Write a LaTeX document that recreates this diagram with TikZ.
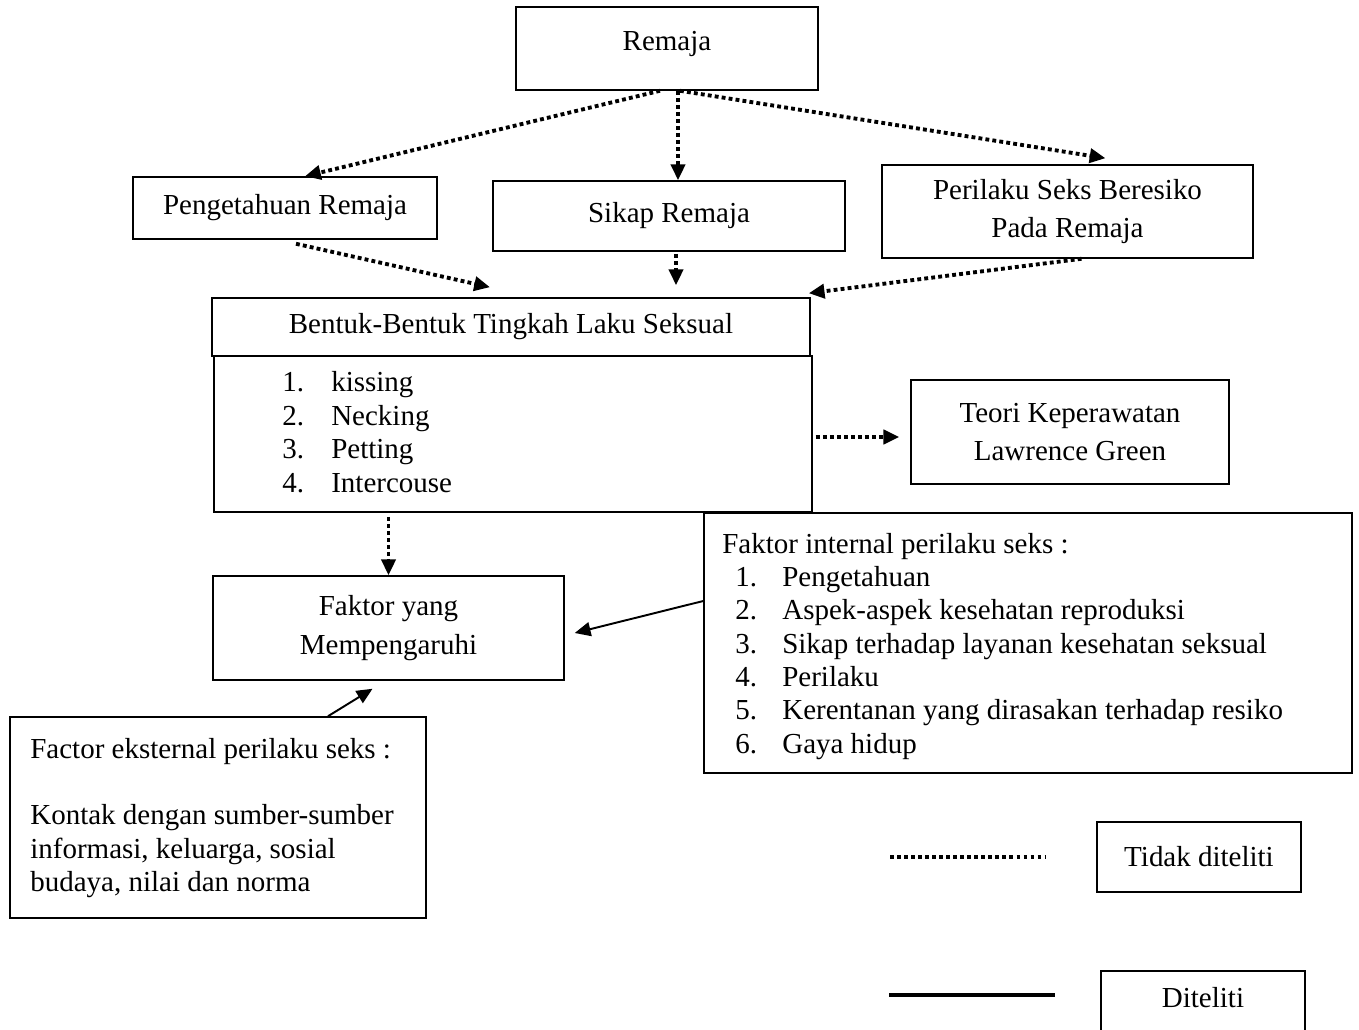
\documentclass[tikz,border=0pt]{standalone}
\usepackage{fontspec}
\setmainfont{Liberation Serif}
\usetikzlibrary{arrows.meta,calc}

\begin{document}
\begin{tikzpicture}[x=0.02cm,y=-0.02cm]
\tikzstyle{every node}+=[font=\fontsize{16.5}{19}\selectfont]
\tikzstyle{kotak}=[draw,line width=0.9pt,inner sep=0pt,align=center]
\tikzstyle{titik}=[line width=2.2pt,dash pattern=on 2.2pt off 1.8pt,-{Triangle[length=9pt,width=8pt]}]
\tikzstyle{garis}=[line width=1.1pt,-{Triangle[length=9pt,width=8pt]}]
\useasboundingbox (0,0) rectangle (1359,1030);
\node[kotak,minimum width=6.04cm,minimum height=1.66cm,text depth=0.3cm] (remaja) at (667,48.5) {Remaja};
\node[kotak,minimum width=6.08cm,minimum height=1.24cm] (pengetahuan) at (285,208) {Pengetahuan Remaja};
\node[kotak,minimum width=7.04cm,minimum height=1.4cm] (sikap) at (669,216) {Sikap Remaja};
\node[kotak,minimum width=7.42cm,minimum height=1.86cm] (perilaku) at (1067.5,211.5) {Perilaku Seks Beresiko\\[0.1cm]Pada Remaja};
\node[kotak,minimum width=11.96cm,minimum height=1.16cm] (bentuk) at (511,327) {Bentuk-Bentuk Tingkah Laku Seksual};
\node[kotak,minimum width=11.96cm,minimum height=3.12cm] (daftar) at (513,434) {};
\node[anchor=base west,inner sep=0pt] (teksdaftar) at (282,392) {\begin{tabular}[t]{@{}p{0.98cm}@{}l@{}}
1. & kissing\\
2. & Necking\\
3. & Petting\\
4. & Intercouse
\end{tabular}};
\node[kotak,minimum width=6.36cm,minimum height=2.08cm] (teori) at (1070,432) {Teori Keperawatan\\[0.1cm]Lawrence Green};
\node[kotak,minimum width=7.02cm,minimum height=2.08cm] (faktor) at (388.5,628) {Faktor yang\\[0.1cm]Mempengaruhi};
\node[kotak,minimum width=12.96cm,minimum height=5.2cm] (internal) at (1028,643) {};
\node[anchor=base west,inner sep=0pt] (teksinternal) at (722,553) {\begin{tabular}[t]{@{\hspace{0.26cm}}p{0.94cm}@{}l@{}}
\multicolumn{2}{@{}l@{}}{Faktor internal perilaku seks :}\\
1. & Pengetahuan\\
2. & Aspek-aspek kesehatan reproduksi\\
3. & Sikap terhadap layanan kesehatan seksual\\
4. & Perilaku\\
5. & Kerentanan yang dirasakan terhadap resiko\\
6. & Gaya hidup
\end{tabular}};
\node[kotak,minimum width=8.32cm,minimum height=4.02cm] (eksternal) at (218,817.5) {};
\node[anchor=base west,inner sep=0pt] (tekseksternal) at (30,758) {\begin{tabular}[t]{@{}l@{}}
Factor eksternal perilaku seks :\\
\\
Kontak dengan sumber-sumber\\
informasi, keluarga, sosial\\
budaya, nilai dan norma
\end{tabular}};
\node[kotak,minimum width=4.08cm,minimum height=1.4cm] (tidak) at (1199,857) {Tidak diteliti};
\node[kotak,minimum width=4.08cm,minimum height=1.4cm,text depth=0.33cm] (diteliti) at (1203,1006) {Diteliti};
\draw[titik] ($(remaja.south)+(-7,0)$) -- ($(pengetahuan.north)+(20,0)$);
\draw[titik] ($(remaja.south)+(11,0)$) -- ($(sikap.north)+(9,0)$);
\draw[titik] ($(remaja.south)+(13,0)$) -- ($(perilaku.north)+(38,-6)$);
\draw[titik] ($(pengetahuan.south)+(11,4)$) -- ($(bentuk.north)+(-21,-10)$);
\draw[titik] ($(sikap.south)+(7,2)$) -- ($(sikap.south |- bentuk.north)+(7,-12)$);
\draw[titik] ($(perilaku.south)+(14,0)$) -- ($(bentuk.north east)+(-2,-4)$);
\draw[titik] ($(daftar.east)+(3,3)$) -- ($(teori.west)+(-11,5)$);
\draw[titik] ($(faktor.north |- daftar.south)+(0,4)$) -- (faktor.north);
\draw[garis] ($(internal.west)+(0,-42)$) -- ($(faktor.east)+(10,5)$);
\draw[garis] ($(eksternal.north)+(110,0)$) -- ($(faktor.south)+(-16,8)$);
\draw[line width=2.2pt,dash pattern=on 2.2pt off 1.8pt] (890,857) -- (1045,857);
\draw[line width=1.8pt] (889,995) -- (1055,995);
\end{tikzpicture}
\end{document}
